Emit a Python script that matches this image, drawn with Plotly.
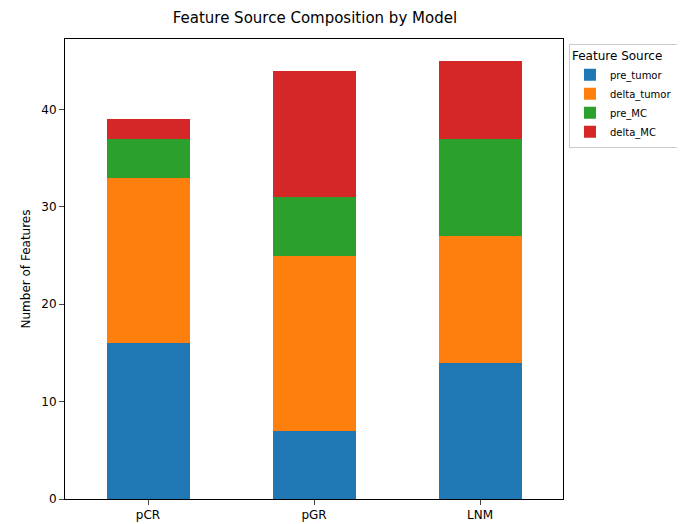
import plotly.graph_objects as go

models = ["pCR", "pGR", "LNM"]
pre_tumor = [16, 7, 14]
delta_tumor = [17, 18, 13]
pre_MC = [4, 6, 10]
delta_MC = [2, 13, 8]

series = [("pre_tumor", pre_tumor, "#1f77b4"), ("delta_tumor", delta_tumor, "#ff7f0e"),
          ("pre_MC", pre_MC, "#2ca02c"), ("delta_MC", delta_MC, "#d62728")]

fig = go.Figure()
for name, vals, col in series:
    fig.add_bar(x=[0, 1, 2], y=vals, name=name, marker=dict(color=col, line=dict(width=0)), width=0.5)

fig.update_layout(
    barmode="stack", width=685, height=524, plot_bgcolor="white", paper_bgcolor="white",
    font=dict(family="DejaVu Sans", color="black", size=12),
    margin=dict(l=57, r=130, t=31, b=33, autoexpand=False),
    title=dict(text="Feature Source Composition by Model", x=0.448, xanchor="center", y=0.992, yanchor="top", font=dict(size=15)),
    legend=dict(title=dict(text="Feature Source", font=dict(size=12)), x=1.012, y=0.99, xanchor="left", yanchor="top",
                bordercolor="#cccccc", borderwidth=1, font=dict(size=10), traceorder="normal",
                itemwidth=30, tracegroupgap=0),
    bargap=0,
)
fig.update_xaxes(range=[-0.5, 2.5], tickvals=[0, 1, 2], ticktext=models, showline=True, mirror=True,
                 linecolor="black", ticks="outside", showgrid=False, zeroline=False, automargin=False)
fig.update_yaxes(range=[0, 47.25], tickvals=[0, 10, 20, 30, 40], showline=True, mirror=True, linecolor="black",
                 ticks="outside", showgrid=False, zeroline=False, automargin=False,
                 title=dict(text="Number of Features", standoff=8, font=dict(size=12)))
fig.write_html("out.html")
